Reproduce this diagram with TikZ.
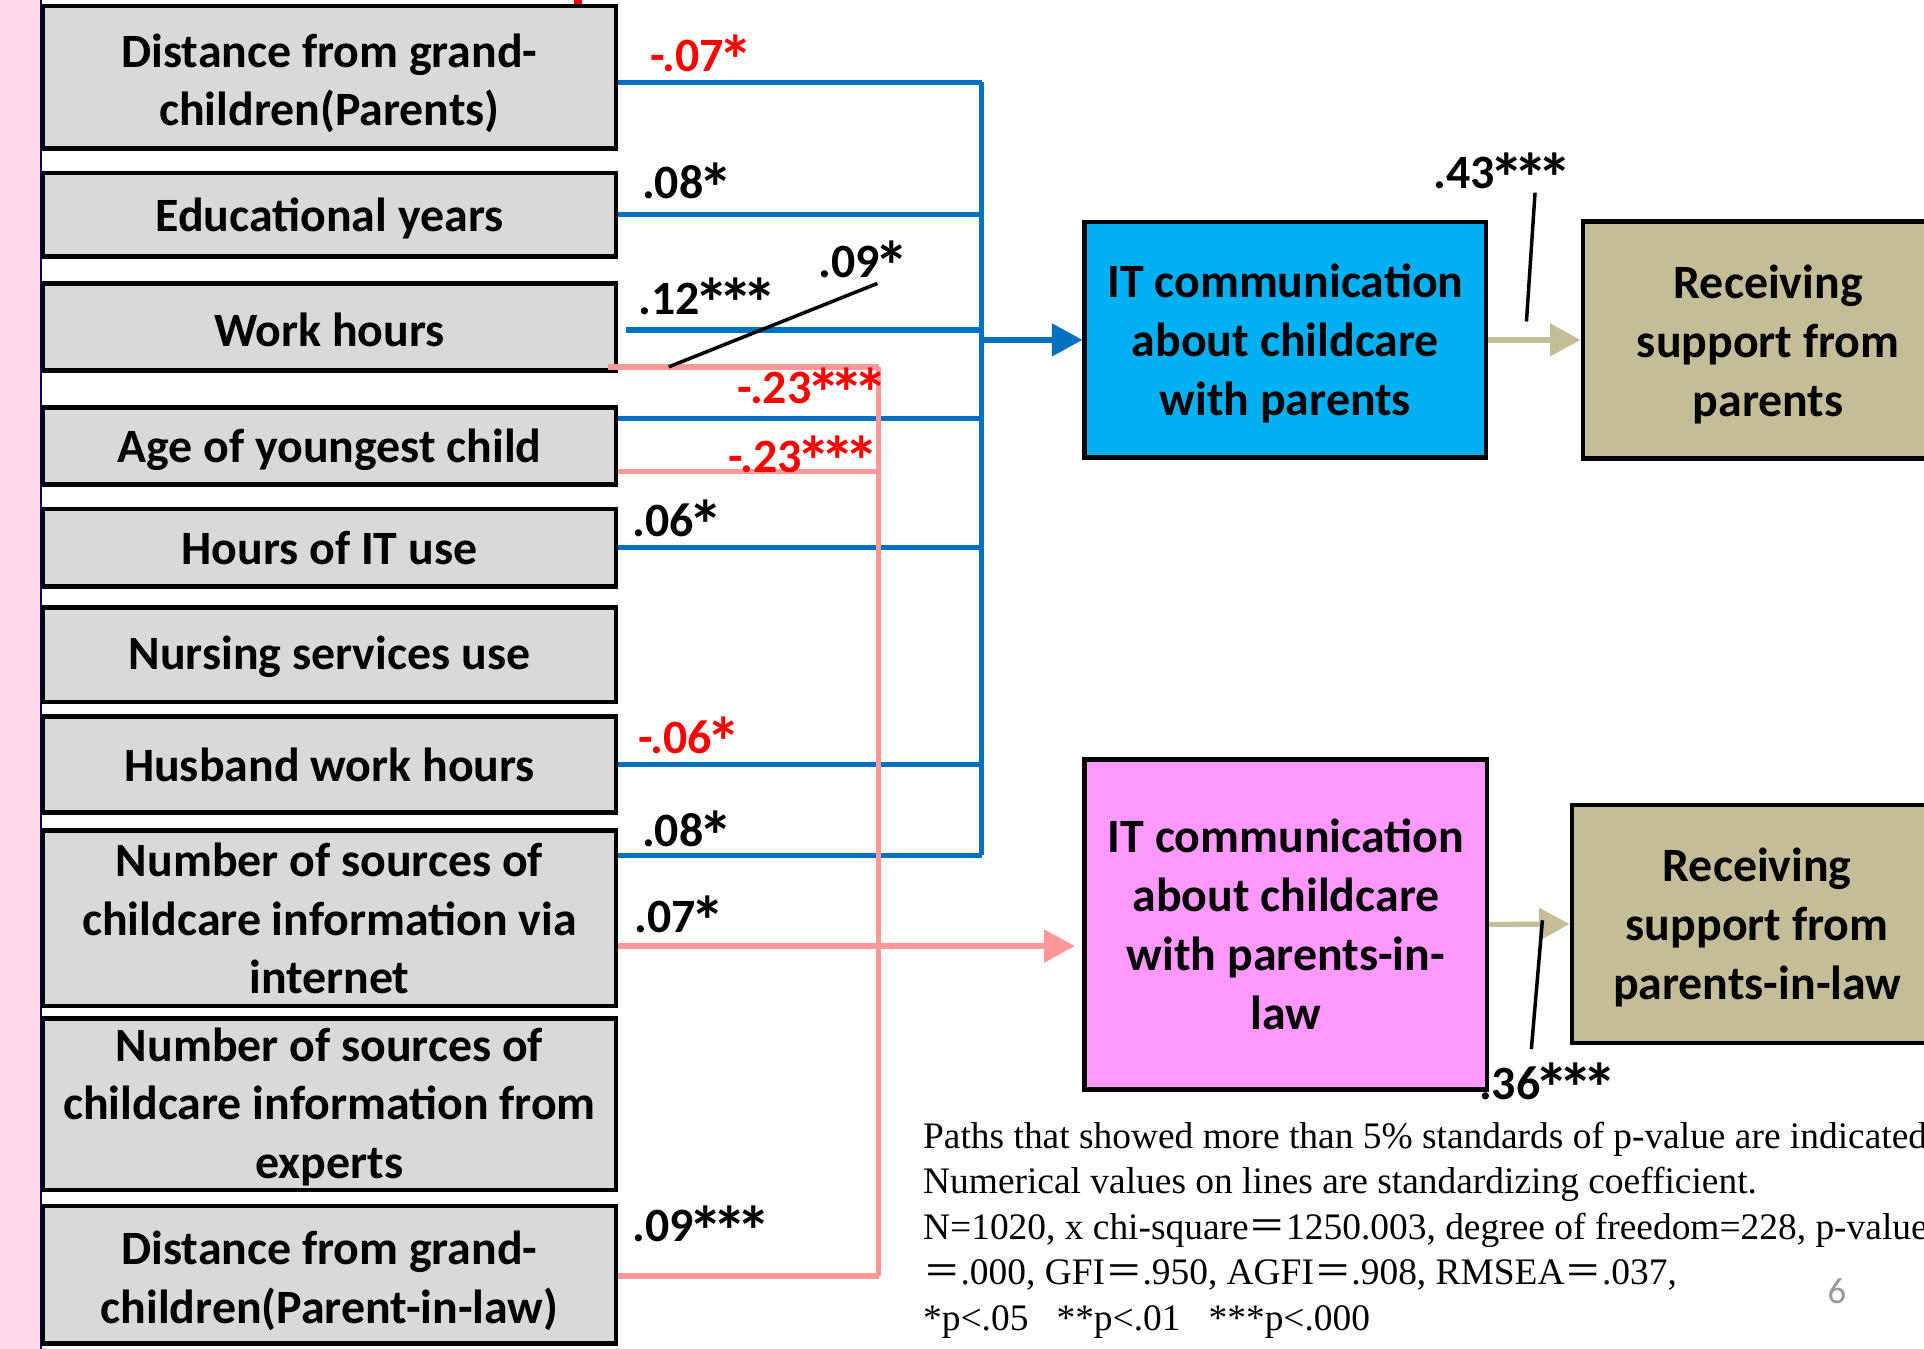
\documentclass[tikz,border=0pt]{standalone}
\usepackage{fontspec}
\setmainfont{Carlito}
\newfontfamily\notefont{Liberation Serif}
\newfontfamily\cjk{Noto Sans CJK JP}
\usetikzlibrary{arrows.meta}

\definecolor{boxgray}{HTML}{D9D9D9}
\definecolor{itblue}{HTML}{00B0F0}
\definecolor{itpink}{HTML}{FF99FF}
\definecolor{suptan}{HTML}{C4BD97}
\definecolor{pathblue}{HTML}{0070C0}
\definecolor{pathpink}{HTML}{FF9999}
\definecolor{stripe}{HTML}{FFD9EC}

\def\px{0.6pt}
\newcommand{\wideeq}{{\cjk ＝}}
\newcommand{\sig}{\makebox[0.5em]{\raisebox{-0.28em}{\scalebox{1.45}{*}}}}
\newcommand{\topstrut}{\rule{0pt}{0.95em}}

\tikzset{
  var/.style={draw, line width=2.2pt, fill=boxgray, minimum width={467*\px},
    inner sep=0pt, align=center, font=\fontsize{23.4}{28.5}\selectfont\bfseries},
  target/.style={draw, line width=2.2pt, inner sep=0pt, align=center,
    font=\fontsize{23.4}{28.8}\selectfont\bfseries},
  coef/.style={anchor=base west, inner sep=0pt, text depth=0pt,
    font=\fontsize{23.4}{28}\selectfont\bfseries},
  negcoef/.style={coef, text=red},
  bluepath/.style={pathblue, line width=2.6pt},
  pinkpath/.style={pathpink, line width=2.6pt},
  tanpath/.style={suptan, line width=2.6pt},
  tip/.style={-{Triangle[length={25*\px},width={26*\px}]}},
  lead/.style={black, line width=1.7pt},
  note/.style={anchor=base west, inner sep=0pt, font=\notefont\fontsize{18.3}{22}\selectfont}
}

\begin{document}
\begin{tikzpicture}[x=\px, y=-\px]
  \useasboundingbox (0,0) rectangle (1568,1099);
  \clip (0,0) rectangle (1568,1099);

  % slide edge
  \fill[stripe] (0,0) rectangle (33,1099);
  \draw[blue!40!black, line width=0.6pt] (33.5,0) -- (33.5,1099);
  \fill[red] (468,0) rectangle (474,3);

  % explanatory variables
  \node[var, minimum height={116*\px}] (b1) at (268.5,63) {\topstrut Distance from grand-\\children(Parents)};
  \node[var, minimum height={68*\px}] (b2) at (268.5,175) {\rule{0pt}{0.86em}Educational years};
  \node[var, minimum height={71*\px}] (b3) at (268.5,266.5) {\rule{0pt}{0.82em}Work hours};
  \node[var, minimum height={63*\px}] (b4) at (268.5,363.5) {\rule{0pt}{0.84em}Age of youngest child};
  \node[var, minimum height={63*\px}] (b5) at (268.5,446.5) {Hours of IT use};
  \node[var, minimum height={77*\px}] (b6) at (268.5,533.5) {\rule{0pt}{0.8em}Nursing services use};
  \node[var, minimum height={78*\px}] (b7) at (268.5,623) {Husband work hours};
  \node[var, minimum height={143*\px}] (b8) at (268.5,748.5) {Number of sources of\\childcare information via\\internet};
  \node[var, minimum height={140*\px}] (b9) at (268.5,900) {\rule{0pt}{0.8em}Number of sources of\\childcare information from\\experts};
  \node[var, minimum height={112*\px}] (b10) at (268.5,1039) {\topstrut Distance from grand-\\children(Parent-in-law)};

  % mediators and outcomes
  \node[target, fill=itblue, minimum width={327*\px}, minimum height={192*\px}] (itp) at (1047.5,277) {\rule{0pt}{0.86em}IT communication\\about childcare\\with parents};
  \node[target, fill=suptan, minimum width={302*\px}, minimum height={193*\px}] (sup1) at (1441,277) {\rule{0pt}{0.9em}Receiving\\support from\\parents};
  \node[target, fill=itpink, minimum width={328*\px}, minimum height={269*\px}] (itl) at (1048,753.5) {IT communication\\about childcare\\with parents-in-\\law};
  \node[target, fill=suptan, minimum width={302*\px}, minimum height={194*\px}] (sup2) at (1432,753) {\rule{0pt}{0.86em}Receiving\\support from\\parents-in-law};

  % paths to parents
  \coordinate (j1) at (800,67);
  \coordinate (j2) at (800,175);
  \coordinate (j3) at (800,269);
  \coordinate (j4) at (800,341);
  \coordinate (j5) at (800,446);
  \coordinate (j7) at (800,623);
  \coordinate (j8) at (800,697);
  \coordinate (jm) at (800,277);
  \draw[bluepath] (b1.east |- j1) -- (j1);
  \draw[bluepath] (b2.east |- j2) -- (j2);
  \draw[bluepath] ([xshift={6*\px}]b3.east |- j3) -- (j3);
  \draw[bluepath] (b4.east |- j4) -- (j4);
  \draw[bluepath] (b5.east |- j5) -- (j5);
  \draw[bluepath] (b7.east |- j7) -- (j7);
  \draw[bluepath] (b8.east |- j8) -- (j8);
  \draw[bluepath] (j1) -- (j8);
  \draw[bluepath, tip] (jm) -- (itp.west);

  % paths to parents-in-law
  \coordinate (k3) at (716,299);
  \coordinate (k4) at (716,384);
  \coordinate (k10) at (716,1040);
  \coordinate (kin) at (876,771);
  \draw[pinkpath] ([xshift={-8*\px}]b3.east |- k3) -- (k3);
  \draw[pinkpath] (b4.east |- k4) -- (k4);
  \draw[pinkpath] (b10.east |- k10) -- (k10);
  \draw[pinkpath] (k3) -- (k10);
  \draw[pinkpath, tip] (b8.east |- kin) -- (kin);

  \draw[tanpath, tip] (itp.east) -- (sup1.west);
  \draw[tanpath, tip] (itl.east) -- (sup2.west);

  % coefficients
  \node[negcoef] (c1) at (530,58) {-.07\sig};
  \node[coef] (c2) at (523,162) {.08\sig};
  \node[coef] (c3) at (520,256) {.12\sig\sig\sig};
  \node[coef] (c3b) at (667,226) {.09\sig};
  \node[negcoef] (c3c) at (601,329) {-.23\sig\sig\sig};
  \node[negcoef] (c4) at (593,385) {-.23\sig\sig\sig};
  \node[coef] (c5) at (515,437) {.06\sig};
  \node[negcoef] (c7) at (520,614) {-.06\sig};
  \node[coef] (c8) at (523,690) {.08\sig};
  \node[coef] (c8b) at (517,760) {.07\sig};
  \node[coef] (c10) at (515,1012) {.09\sig\sig\sig};
  \node[coef] (cp) at (1168,154) {.43\sig\sig\sig};
  \node[coef] (cl) at (1205,896) {.36\sig\sig\sig};

  \draw[lead] (545,299) -- (715,231);
  \draw[lead] (1244,262) -- (1251,157);
  \draw[lead] (1257,750) -- (1248,855);

  % notes
  \node[note] (n1) at (752,936) {Paths that showed more than 5\% standards of p-value are indicated};
  \node[note] (n2) at (752,973) {Numerical values on lines are standardizing coefficient.};
  \node[note] (n3) at (752,1010) {N=1020, x chi-square\wideeq 1250.003, degree of freedom=228, p-value};
  \node[note] (n4) at (752,1047) {\wideeq.000, GFI\wideeq.950, AGFI\wideeq.908, RMSEA\wideeq.037,};
  \node[note] (n5) at (752,1084) {*p<.05\ \ \ **p<.01\ \ \ ***p<.000};
  \node[font=\fontsize{18}{20}\selectfont, text=black!40] (pg) at (1497,1052) {6};
\end{tikzpicture}
\end{document}
